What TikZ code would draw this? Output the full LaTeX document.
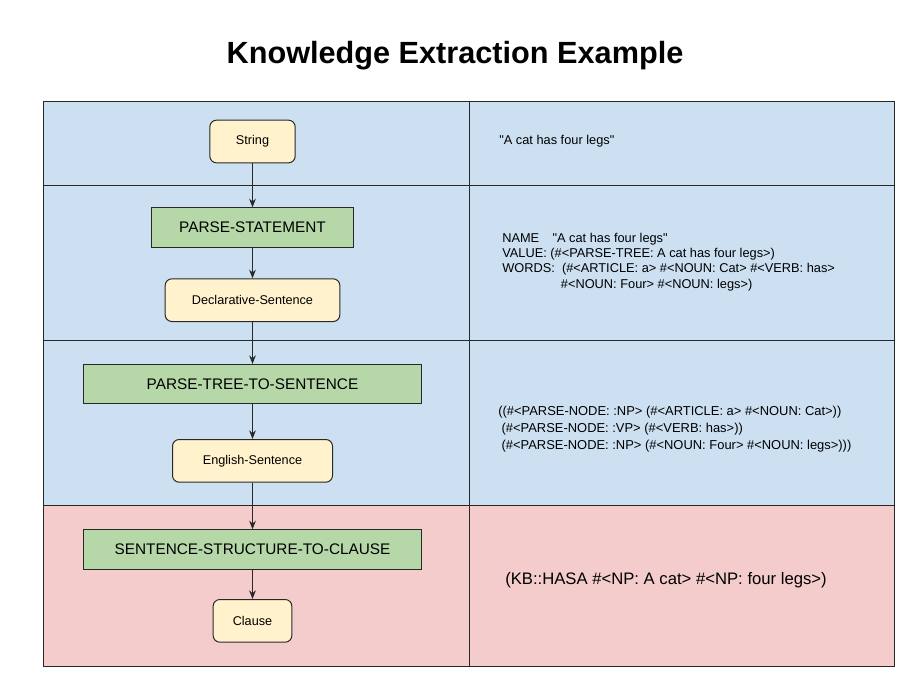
\documentclass[tikz,border=0pt]{standalone}
\usepackage{fontspec}
\setmainfont{Liberation Sans}[Ligatures=TeXOff]
\usetikzlibrary{arrows.meta, positioning}
\definecolor{laneblue}{RGB}{204,224,242}
\definecolor{lanered}{RGB}{244,204,204}
\definecolor{opgreen}{RGB}{182,215,168}
\definecolor{typeyellow}{RGB}{255,242,204}
\definecolor{edgegray}{RGB}{40,40,40}

\begin{document}
\begin{tikzpicture}[
  x=0.75pt, y=-0.75pt,
  typebox/.style={rectangle, rounded corners=5pt, draw=edgegray, fill=typeyellow,
                  line width=0.75pt, minimum height=32pt,
                  font=\fontsize{9.5}{11}\selectfont},
  opbox/.style={rectangle, draw=edgegray, fill=opgreen, line width=0.75pt,
                minimum height=29.5pt, font=\fontsize{11.5}{13}\selectfont},
  arr/.style={-{Stealth[length=6.5pt, width=5pt]}, line width=0.75pt, draw=edgegray},
  lane/.style={draw=edgegray, line width=0.75pt},
  info/.style={anchor=west, align=left, inner sep=0pt}
]
  \useasboundingbox (0,0) rectangle (912,690);

  \node[font=\fontsize{23}{27}\selectfont\bfseries] (title) at (455,56)
    {Knowledge Extraction Example};

  % lanes
  \fill[laneblue] (43,101) rectangle (894,505);
  \fill[lanered] (43,505) rectangle (894,666);
  \draw[lane] (43,101) rectangle (894,666);
  \foreach \y in {185,340,505}
    \draw[lane] (43,\y) -- (894,\y);
  \draw[lane] (469,101) -- (469,666);

  % flow
  \node[typebox, minimum width=64pt] (str) at (252.5,141.5) {String};
  \node[opbox, minimum width=151pt, below=33pt of str] (pst) {PARSE-STATEMENT};
  \node[typebox, minimum width=131pt, below=23pt of pst] (dsent) {Declarative-Sentence};
  \node[opbox, minimum width=254pt, below=31.5pt of dsent] (ptts) {PARSE-TREE-TO-SENTENCE};
  \node[typebox, minimum width=120pt, below=26pt of ptts] (esent) {English-Sentence};
  \node[opbox, minimum width=254pt, below=35pt of esent] (sstc) {SENTENCE-STRUCTURE-TO-CLAUSE};
  \node[typebox, minimum width=59pt, below=22pt of sstc] (clause) {Clause};

  \foreach \a/\b in {str/pst,pst/dsent,dsent/ptts,ptts/esent,esent/sstc,sstc/clause}
    \draw[arr] (\a) -- (\b);

  % values
  \node[info, font=\fontsize{9.6}{11}\selectfont] (rawtext) at (499,141)
    {"A cat has four legs"};
  \node[info, font=\fontsize{9.6}{11.5}\selectfont] (stmtinfo) at (502,262)
    {NAME\hspace{10pt}"A cat has four legs"\\
     VALUE: (\#<PARSE-TREE: A cat has four legs>)\\
     WORDS:\ \ (\#<ARTICLE: a> \#<NOUN: Cat> \#<VERB: has>\\
     \hspace{44pt}\#<NOUN: Four> \#<NOUN: legs>)};
  \node[info, font=\fontsize{9.7}{12.9}\selectfont] (treeinfo) at (498,429)
    {((\#<PARSE-NODE: :NP> (\#<ARTICLE: a> \#<NOUN: Cat>))\\
     \hspace{2.5pt}(\#<PARSE-NODE: :VP> (\#<VERB: has>))\\
     \hspace{2.5pt}(\#<PARSE-NODE: :NP> (\#<NOUN: Four> \#<NOUN: legs>)))};
  \node[info, font=\fontsize{12.5}{14}\selectfont] (clauseinfo) at (505,580)
    {(KB::HASA \#<NP: A cat> \#<NP: four legs>)};
\end{tikzpicture}
\end{document}
